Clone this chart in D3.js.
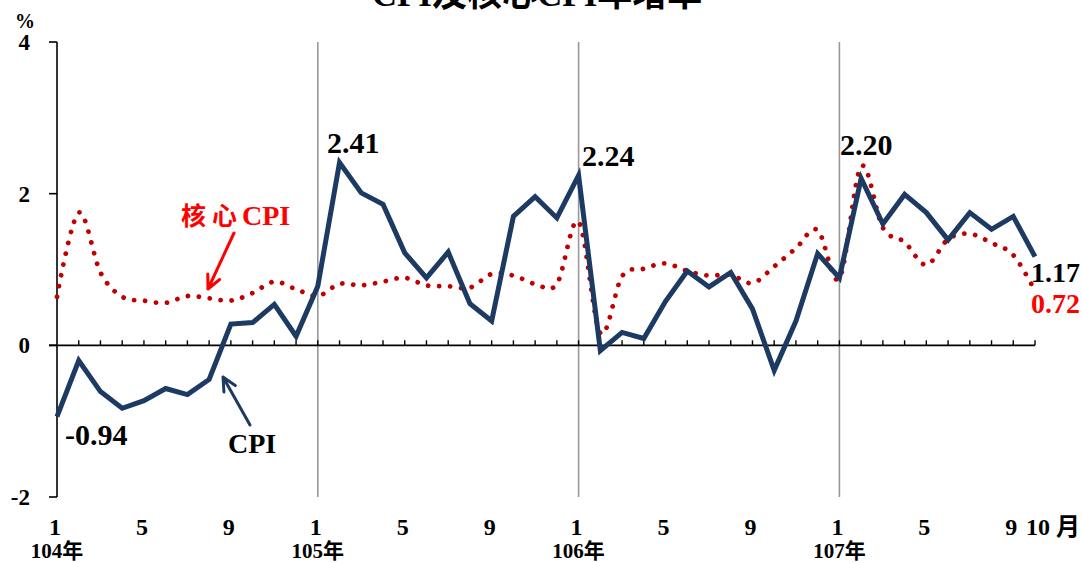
<!DOCTYPE html>
<html>
<head>
<meta charset="utf-8">
<script src="https://cdn.jsdelivr.net/npm/d3@7"></script>
<style>
  html, body { margin: 0; padding: 0; background: #fff; }
  svg { display: block; }
  text { font-family: "Times New Roman", "Liberation Serif", "Noto Sans CJK TC", serif; font-weight: bold; }
</style>
</head>
<body>
<svg id="chart" width="1082" height="563"></svg>
<script>
// ---- data ----
const years = ["104年", "105年", "106年", "107年"];
const monthLabels = ["1", "5", "9"];
const cpi = [
  -0.94, -0.20, -0.61, -0.83, -0.73, -0.57, -0.65, -0.45, 0.28, 0.30, 0.54, 0.12,
  0.78, 2.41, 2.01, 1.86, 1.22, 0.89, 1.23, 0.55, 0.32, 1.70, 1.96, 1.68,
  2.24, -0.07, 0.17, 0.09, 0.58, 0.98, 0.77, 0.96, 0.48, -0.33, 0.32, 1.21,
  0.89, 2.20, 1.60, 1.99, 1.75, 1.39, 1.75, 1.53, 1.70, 1.17
];
const core = [
  0.64, 1.75, 0.96, 0.64, 0.59, 0.56, 0.65, 0.62, 0.59, 0.69, 0.84, 0.74,
  0.65, 0.81, 0.79, 0.84, 0.89, 0.79, 0.78, 0.76, 0.94, 0.92, 0.81, 0.81,
  1.63, 0.16, 0.91, 1.01, 1.08, 0.98, 0.92, 0.93, 0.82, 1.04, 1.28, 1.52,
  0.88, 2.36, 1.55, 1.36, 1.06, 1.40, 1.47, 1.35, 1.19, 0.72
];
const yTicks = [-2, 0, 2, 4];
const peakLabels = [
  { i: 0, v: -0.94, text: "-0.94" },
  { i: 13, v: 2.41, text: "2.41" },
  { i: 24, v: 2.24, text: "2.24" },
  { i: 37, v: 2.20, text: "2.20" }
];

// ---- layout ----
const svg = d3.select("#chart");
const x = d3.scaleLinear().domain([0, 45]).range([57, 1035]);
const y = d3.scaleLinear().domain([-2, 4]).range([497, 42]);
const navy = "#1c3a62";
const dotRed = "#c00000";
const red = "#ff0000";

// title (clipped at top like the reference)
svg.append("text").attr("x", 537).attr("y", 6).attr("text-anchor", "middle")
  .attr("font-size", 35).text("CPI及核心CPI年增率");

// year separator lines
[12, 24, 36].forEach(i => {
  svg.append("line").attr("x1", x(i)).attr("x2", x(i)).attr("y1", y(4)).attr("y2", y(-2))
    .attr("stroke", "#999").attr("stroke-width", 1.6);
});

// y axis
svg.append("line").attr("x1", x(0)).attr("x2", x(0)).attr("y1", y(4)).attr("y2", y(-2))
  .attr("stroke", "#000").attr("stroke-width", 1.6);
yTicks.forEach(t => {
  svg.append("line").attr("x1", x(0) - 8).attr("x2", x(0)).attr("y1", y(t)).attr("y2", y(t))
    .attr("stroke", "#000").attr("stroke-width", 1.6);
  svg.append("text").attr("x", 30).attr("y", y(t) + 8).attr("text-anchor", "end")
    .attr("font-size", 23).text(t);
});
svg.append("text").attr("x", 25).attr("y", 28).attr("text-anchor", "middle")
  .attr("font-size", 20).text("%");

// x axis at zero
svg.append("line").attr("x1", x(0) - 8).attr("x2", x(45)).attr("y1", y(0)).attr("y2", y(0))
  .attr("stroke", "#000").attr("stroke-width", 1.6);
d3.range(1, 46).forEach(i => {
  svg.append("line").attr("x1", x(i)).attr("x2", x(i)).attr("y1", y(0) - 5).attr("y2", y(0))
    .attr("stroke", "#000").attr("stroke-width", 1.4);
});

// month labels
years.forEach((yr, k) => {
  monthLabels.forEach((m, j) => {
    const i = k * 12 + j * 4;
    svg.append("text").attr("x", x(i) - 2).attr("y", 535).attr("text-anchor", "middle")
      .attr("font-size", 24).text(m);
  });
  svg.append("text").attr("x", x(k * 12)).attr("y", 558).attr("text-anchor", "middle")
    .attr("font-size", 21).text(yr);
});
svg.append("text").attr("x", x(45) - 9).attr("y", 535).attr("text-anchor", "start")
  .attr("font-size", 24).text("10 月");

// core CPI dotted smooth line
const coreLine = d3.line().x((d, i) => x(i)).y(d => y(d)).curve(d3.curveCardinal.tension(0));
svg.append("path").datum(core).attr("d", coreLine).attr("fill", "none")
  .attr("stroke", dotRed).attr("stroke-width", 4.8).attr("stroke-linecap", "round")
  .attr("stroke-dasharray", "0.01 11");

// CPI solid line
const cpiLine = d3.line().x((d, i) => x(i)).y(d => y(d));
svg.append("path").datum(cpi).attr("d", cpiLine).attr("fill", "none")
  .attr("stroke", navy).attr("stroke-width", 5).attr("stroke-linejoin", "miter");

// peak labels
const peakPos = [[65, 445, "start"], [327, 153, "start"], [582, 166, "start"], [840, 155, "start"]];
peakLabels.forEach((p, k) => {
  svg.append("text").attr("x", peakPos[k][0]).attr("y", peakPos[k][1])
    .attr("text-anchor", peakPos[k][2]).attr("font-size", 30).attr("fill", "#000").text(p.text);
});
svg.append("text").attr("x", 1080).attr("y", 282).attr("text-anchor", "end")
  .attr("font-size", 28).attr("fill", "#000").text(cpi[45].toFixed(2));
svg.append("text").attr("x", 1080).attr("y", 313).attr("text-anchor", "end")
  .attr("font-size", 28).attr("fill", red).text(core[45].toFixed(2));

// arrows
function arrow(x1, y1, x2, y2, color) {
  const ang = Math.atan2(y2 - y1, x2 - x1);
  const L = 15, a = 0.45;
  const p1 = [x2 - L * Math.cos(ang - a), y2 - L * Math.sin(ang - a)];
  const p2 = [x2 - L * Math.cos(ang + a), y2 - L * Math.sin(ang + a)];
  svg.append("path")
    .attr("d", `M${x1},${y1}L${x2},${y2}M${p1[0]},${p1[1]}L${x2},${y2}L${p2[0]},${p2[1]}`)
    .attr("fill", "none").attr("stroke", color).attr("stroke-width", 3)
    .attr("stroke-linecap", "round").attr("stroke-linejoin", "round");
}
arrow(234, 233, 208, 289, red);
arrow(250, 425, 223, 377, navy);

// series labels
const coreLbl = svg.append("text").attr("y", 225).attr("fill", red).attr("font-size", 25);
coreLbl.append("tspan").attr("x", 181).text("核");
coreLbl.append("tspan").attr("x", 212).text("心");
coreLbl.append("tspan").attr("x", 242).attr("font-size", 28).text("CPI");
svg.append("text").attr("x", 228).attr("y", 453).attr("fill", "#000").attr("font-size", 28).text("CPI");
</script>
</body>
</html>
